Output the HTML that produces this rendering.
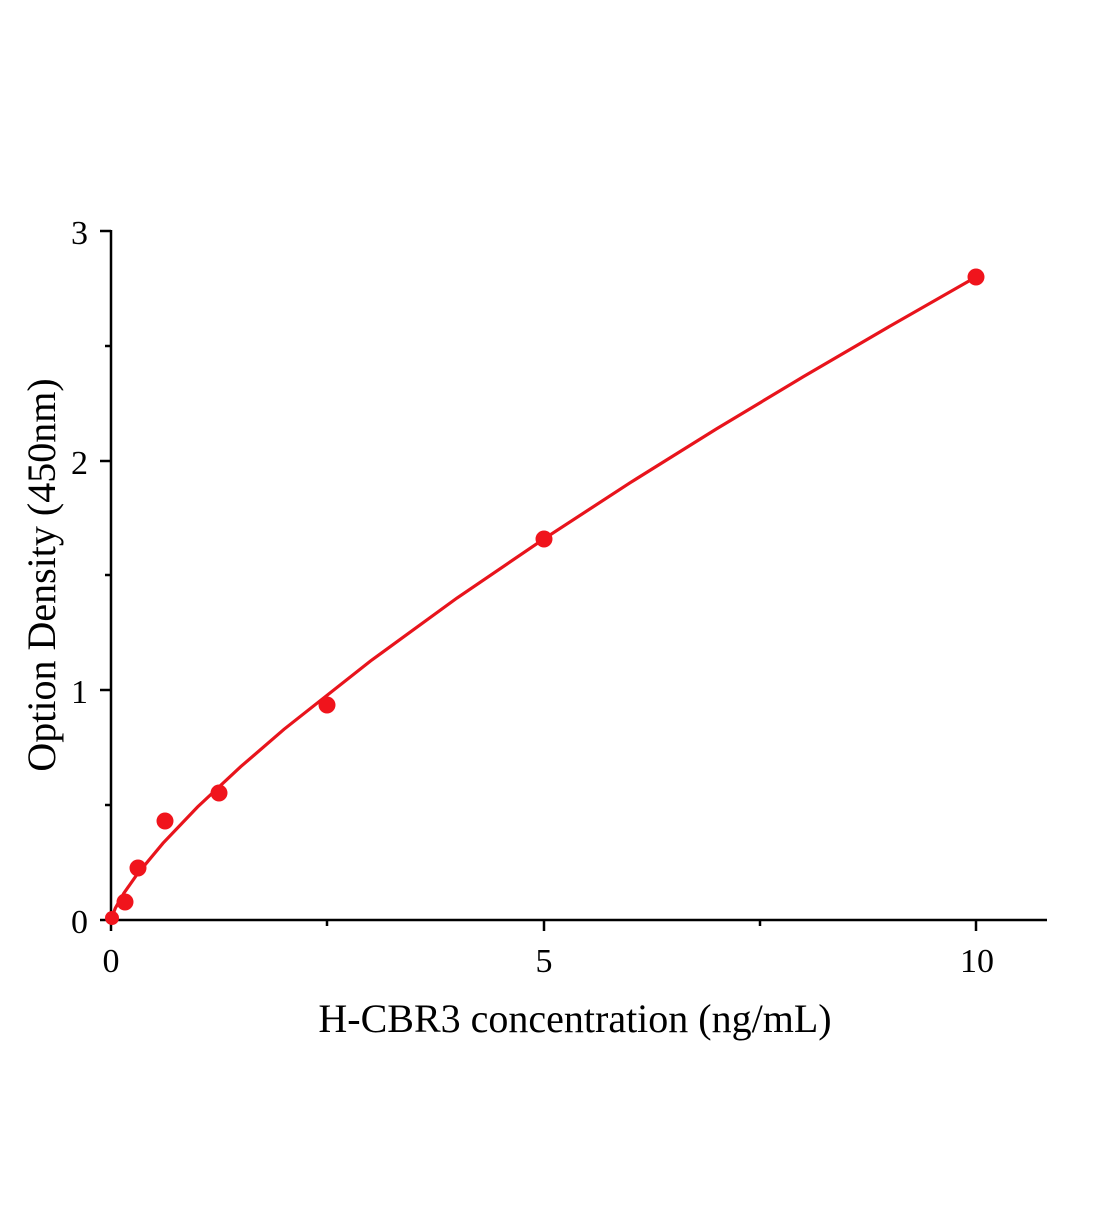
<!DOCTYPE html>
<html><head><style>html,body{margin:0;padding:0;background:#fff;}</style></head>
<body>
<svg width="1104" height="1200" xmlns="http://www.w3.org/2000/svg" font-family="Liberation Serif, serif">
<g stroke="#000" stroke-width="2.5" fill="none">
<line x1="111" y1="230" x2="111" y2="931"/>
<line x1="100" y1="920" x2="1047" y2="920"/>
<line x1="100" y1="231" x2="111" y2="231"/>
<line x1="100" y1="461" x2="111" y2="461"/>
<line x1="100" y1="690" x2="111" y2="690"/>
<line x1="105" y1="346" x2="111" y2="346"/>
<line x1="105" y1="575" x2="111" y2="575"/>
<line x1="105" y1="805" x2="111" y2="805"/>
<line x1="544" y1="920" x2="544" y2="931"/>
<line x1="976" y1="920" x2="976" y2="931"/>
<line x1="327" y1="920" x2="327" y2="926"/>
<line x1="760" y1="920" x2="760" y2="926"/>
</g>
<g font-size="34" fill="#000">
<text x="88" y="933" text-anchor="end">0</text>
<text x="88" y="703" text-anchor="end">1</text>
<text x="88" y="474" text-anchor="end">2</text>
<text x="88" y="244" text-anchor="end">3</text>
<text x="111" y="972" text-anchor="middle">0</text>
<text x="544" y="972" text-anchor="middle">5</text>
<text x="977" y="972" text-anchor="middle">10</text>
</g>
<text x="575" y="1032" font-size="40" text-anchor="middle">H-CBR3 concentration (ng/mL)</text>
<text transform="translate(55,575) rotate(-90)" font-size="40" text-anchor="middle">Option Density (450nm)</text>
<polyline fill="none" stroke="#e8141c" stroke-width="3.2" points="111,920 115.3,908.2 124,893 137,874.5 163,843.2 197.5,807 240.8,766.6 284,729.3 370.5,661 457,598 543.5,539.2 630,482.8 716.5,428.9 803,376.9 889.5,326.4 976,277"/>
<g fill="#f0141c">
<circle cx="112" cy="918" r="7"/>
<circle cx="125" cy="902" r="8.5"/>
<circle cx="138" cy="868" r="8.5"/>
<circle cx="165" cy="821" r="8.5"/>
<circle cx="219" cy="793" r="8.5"/>
<circle cx="327" cy="705" r="8.5"/>
<circle cx="544" cy="539" r="8.5"/>
<circle cx="976" cy="277" r="8.5"/>
</g>
</svg>
</body></html>
